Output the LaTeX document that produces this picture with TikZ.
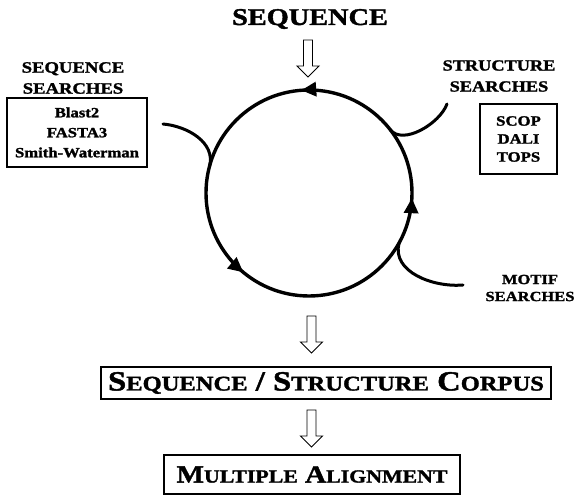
\documentclass[tikz,border=0pt]{standalone}
\usepackage{fontspec}
\setmainfont{Liberation Serif}[FakeStretch=1.18, BoldFeatures={FakeBold=1.6}]
\usetikzlibrary{arrows.meta,decorations.markings,calc}

\begin{document}
\begin{tikzpicture}[x=1pt,y=1pt,
  lbl/.style={font=\bfseries\fontsize{15.8}{21}\selectfont, align=center, inner sep=0pt},
  listbox/.style={draw, line width=1.1pt, align=center, inner sep=0pt,
    font=\bfseries\fontsize{14.1}{20}\selectfont},
  stagebox/.style={draw, line width=1.1pt, inner sep=0pt, font=\bfseries},
  flow/.style={line width=3.4pt},
  feed/.style={line width=3pt, line cap=round},
  flowtip/.tip={Triangle[length=15pt,width=14pt]},
  hollow/.pic={\draw[line width=0.9pt, fill=white, line join=miter]
    (-4.5,0) -- (-4.5,-26) -- (-11,-26) -- (0,-37) -- (11,-26) -- (4.5,-26) -- (4.5,0) -- cycle;}
]
\useasboundingbox (0,0) rectangle (579,495);
\fill[white] (0,0) rectangle (579,495);

% title and search labels
\node[font=\bfseries\fontsize{24}{24}\selectfont, inner sep=0pt] (title) at (310,476) {SEQUENCE};
\node[lbl] (seqlbl) at (73,417) {SEQUENCE\\SEARCHES};
\node[lbl, font=\bfseries\fontsize{15.5}{21}\selectfont] (strlbl) at (499,419) {STRUCTURE\\SEARCHES};
\node[lbl, font=\bfseries\fontsize{14}{17}\selectfont] (motlbl) at (530,207) {MOTIF\\SEARCHES};

% tool lists
\node[listbox, minimum width=140, minimum height=69] (seqbox) at (77,362.5)
  {Blast2\\FASTA3\\Smith-Waterman};
\node[listbox, minimum width=77, minimum height=70,
  font=\bfseries\fontsize{14.2}{18}\selectfont] (strbox) at (518.5,356) {SCOP\\DALI\\TOPS};

% the search cycle
\coordinate (c) at (309,302);
\draw[flow, postaction={decorate}, decoration={markings,
    mark=at position 0.262 with {\arrow{flowtip}},
    mark=at position 0.64 with {\arrow{flowtip}},
    mark=at position 0.992 with {\arrow{flowtip}}}]
  (c) ++(0:103) arc[start angle=0, end angle=360, radius=103] -- cycle;

% feeds into and out of the cycle
\coordinate (seqin) at (163,371);
\coordinate (seqjoin) at ($(c)+(165:103)$);
\coordinate (strin) at (447,391);
\coordinate (strjoin) at ($(c)+(38:103)$);
\coordinate (motjoin) at ($(c)+(-29:103)$);
\coordinate (motout) at (463,210);
\draw[feed] (seqin) to[out=-5, in=75] (seqjoin);
\draw[feed] (strin) to[out=-110, in=-52, looseness=0.85] (strjoin);
\draw[feed] (motjoin) to[out=255, in=185] (motout);

% corpus and alignment stages
\node[stagebox, minimum width=450, minimum height=32] (corpus) at (326,112)
  {\fontsize{27.7}{27.7}\selectfont S{\fontsize{20.8}{20.8}\selectfont EQUENCE} /
   S{\fontsize{20.8}{20.8}\selectfont TRUCTURE} C{\fontsize{20.8}{20.8}\selectfont ORPUS}};
\node[stagebox, minimum width=296, minimum height=39] (align) at (312,20.5)
  {\fontsize{24.7}{24.7}\selectfont M{\fontsize{18.5}{18.5}\selectfont ULTIPLE}
   A{\fontsize{18.5}{18.5}\selectfont LIGNMENT}};

% hollow block arrows between stages
\pic at (308,455) {hollow};
\pic at (311.5,179) {hollow};
\pic at (311.5,85) {hollow};
\end{tikzpicture}
\end{document}
